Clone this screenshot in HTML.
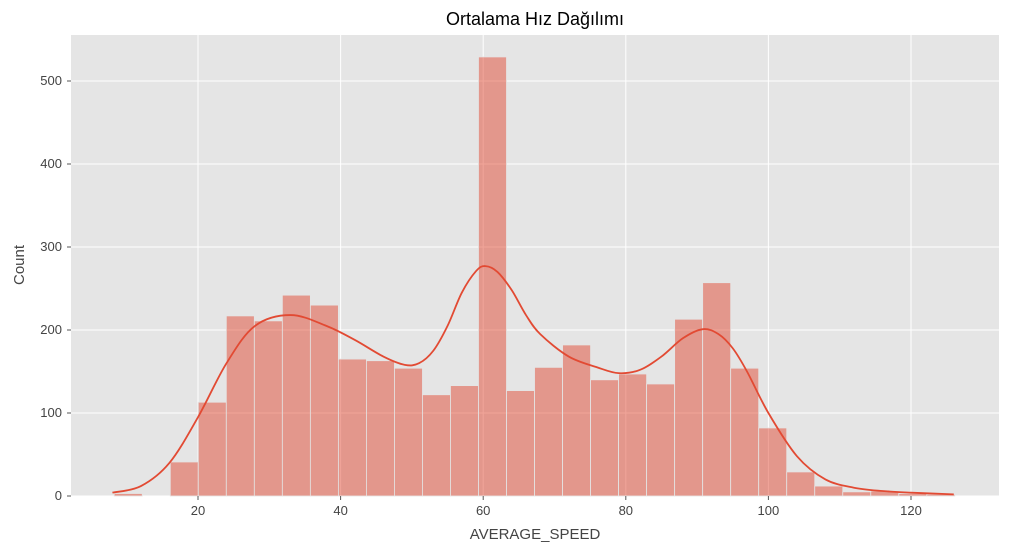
<!DOCTYPE html>
<html><head><meta charset="utf-8"><style>
body{margin:0;background:#fff;}
svg{display:block;font-family:"Liberation Sans","DejaVu Sans",sans-serif;}
</style></head><body>
<svg id="chart" width="1009" height="553" xmlns="http://www.w3.org/2000/svg">
<rect x="71" y="35" width="928" height="461" fill="#e5e5e5"/>
<g id="grid"></g><g id="bars"></g><g id="kde"></g><g id="ticks"></g>
<text x="535" y="25" text-anchor="middle" font-size="18" fill="#000">Ortalama Hız Dağılımı</text>
<text x="535" y="539" text-anchor="middle" font-size="15" fill="#444">AVERAGE_SPEED</text>
<text x="24" y="265" text-anchor="middle" font-size="15" fill="#444" transform="rotate(-90 24 265)">Count</text>
</svg>
<script>
const binStart = 8.25, binWidth = 3.93;
const counts = [3,0,41,113,217,211,242,230,165,163,154,122,133,529,127,155,182,140,147,135,213,257,154,82,29,12,5,6,3,2];
const kdeX = [8,12,16,20,24,28,33,38,42,46,49,51,53,55,57,59,60.3,62,64,66,68,72,76,79,82,85,88,90.8,93,95,97,100,104,108,112,116,120,126];
const kdeY = [4,12,40,95,160,205,218,205,188,168,158,160,175,205,245,271,277,270,248,218,195,168,155,148,152,168,190,201,195,178,150,100,48,20,10,6,4,2];
const xTicks = [20,40,60,80,100,120];
const yTicks = [0,100,200,300,400,500];
const NS="http://www.w3.org/2000/svg";
const sx=v=>198+(v-20)*7.13, sy=v=>496-v*0.83;
function mk(t,a,p){const e=document.createElementNS(NS,t);for(const k in a)e.setAttribute(k,a[k]);p.appendChild(e);return e;}
const grid=document.getElementById('grid'),ticks=document.getElementById('ticks');
xTicks.forEach(t=>{
 const l=mk('line',{x1:sx(t),x2:sx(t),y1:35,y2:496,stroke:'#fff','stroke-width':1},grid);
 
 
 const tk=mk('line',{x1:sx(t),x2:sx(t),y1:496,y2:500,stroke:'#555'},ticks);
 
 
 const tx=mk('text',{x:sx(t),y:515,'text-anchor':'middle','font-size':13,fill:'#444'},ticks);tx.textContent=t;
 
 
});
yTicks.forEach(t=>{
 const l=mk('line',{x1:71,x2:999,y1:sy(t),y2:sy(t),stroke:'#fff','stroke-width':1},grid);
 
 
 const tk=mk('line',{x1:67,x2:71,y1:sy(t),y2:sy(t),stroke:'#555'},ticks);
 
 
 const tx=mk('text',{x:62,y:sy(t)+4,'text-anchor':'end','font-size':13,fill:'#444'},ticks);tx.textContent=t;
 
 
});
const bars=document.getElementById('bars');
counts.forEach((c,i)=>{
 if(c<=0)return;
 const x0=sx(binStart+i*binWidth),x1=sx(binStart+(i+1)*binWidth);
 const r=mk('rect',{x:x0,y:sy(c),width:x1-x0,height:sy(0)-sy(c),fill:'rgba(226,74,51,0.5)',stroke:'#e5e5e5','stroke-width':0.8},bars);
 
 
});
const pts=kdeX.map((x,i)=>[sx(x),sy(kdeY[i])]);
let d='M'+pts[0][0]+','+pts[0][1];
for(let i=0;i<pts.length-1;i++){
 const p0=pts[Math.max(0,i-1)],p1=pts[i],p2=pts[i+1],p3=pts[Math.min(pts.length-1,i+2)];
 d+=` C${p1[0]+(p2[0]-p0[0])/6},${p1[1]+(p2[1]-p0[1])/6} ${p2[0]-(p3[0]-p1[0])/6},${p2[1]-(p3[1]-p1[1])/6} ${p2[0]},${p2[1]}`;
}
const path=mk('path',{d:d,fill:'none',stroke:'#e24a33','stroke-width':1.8},document.getElementById('kde'));


</script>
</body></html>
